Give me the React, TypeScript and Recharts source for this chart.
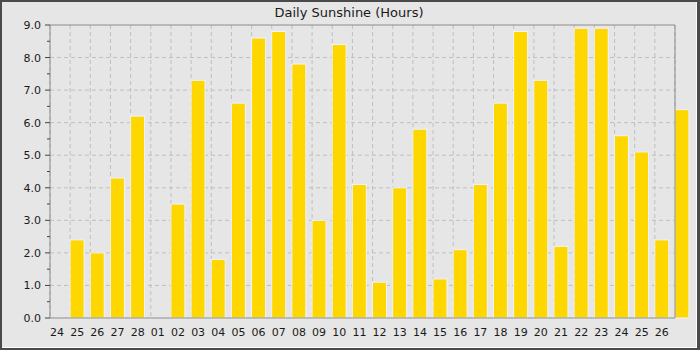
import React from "react";
import { BarChart, Bar, XAxis, YAxis, CartesianGrid, ReferenceLine } from "recharts";

const days = [
  "24", "25", "26", "27", "28", "01", "02", "03", "04", "05", "06", "07", "08", "09", "10", "11",
  "12", "13", "14", "15", "16", "17", "18", "19", "20", "21", "22", "23", "24", "25", "26", "27",
];

const sunshine: (number | null)[] = [
  null, 2.4, 2.0, 4.3, 6.2, null, 3.5, 7.3, 1.8, 6.6, 8.6, 8.8, 7.8, 3.0, 8.4, 4.1,
  1.1, 4.0, 5.8, 1.2, 2.1, 4.1, 6.6, 8.8, 7.3, 2.2, 8.9, 8.9, 5.6, 5.1, 2.4, 6.4,
];

const xTicks = [0, 1, 2, 3, 4, 5, 6, 7, 8, 9, 10, 11, 12, 13, 14, 15, 16, 17, 18, 19, 20, 21, 22, 23, 24, 25, 26, 27, 28, 29, 30];
const yTicks = [0, 0.5, 1, 1.5, 2, 2.5, 3, 3.5, 4, 4.5, 5, 5.5, 6, 6.5, 7, 7.5, 8, 8.5, 9];
const yGrid = [1, 2, 3, 4, 5, 6, 7, 8];

const data = days.map((d, i) => ({ idx: i, day: d, value: sunshine[i] }));

const FONT = "'DejaVu Sans', sans-serif";
const TEXT = "#1a1a1a";

const XTick = (props: any) => {
  const { x, y, payload } = props;
  return (
    <text x={x} y={y} dy="0.71em" textAnchor="start" fontSize={11} fontFamily={FONT} fill={TEXT}>
      {days[payload.value]}
    </text>
  );
};

const YTick = (props: any) => {
  const { x, y, payload } = props;
  const v = payload.value as number;
  const major = Number.isInteger(v);
  const edge = x + 9;
  return (
    <g>
      <line x1={edge - (major ? 5 : 3)} x2={edge} y1={y} y2={y} stroke="#444" strokeWidth={1} />
      {major && (
        <text x={x} y={y} dy="0.36em" textAnchor="end" fontSize={11} fontFamily={FONT} fill={TEXT}>
          {v.toFixed(1)}
        </text>
      )}
    </g>
  );
};

const DayBar = (p: any) => {
  if (!p.height || p.height <= 0) return null;
  return (
    <rect
      x={p.x + p.width / 2}
      y={p.y}
      width={p.width}
      height={p.height}
      fill="#FFD700"
      stroke="#eef3ff"
      strokeWidth={1}
    />
  );
};

export default function App() {
  return (
    <div style={{ position: "fixed", left: 0, top: 0, width: 700, height: 350, background: "#4a4a4a" }}>
      <div
        style={{
          position: "absolute",
          left: 2,
          top: 2,
          width: 695,
          height: 346,
          boxSizing: "border-box",
          background: "#e6e6e6",
          borderRight: "1px solid #ffffff",
          borderBottom: "1px solid #ffffff",
        }}
      />
      <div style={{ position: "absolute", left: 0, top: 0 }}>
        <BarChart
          width={700}
          height={350}
          data={data}
          margin={{ top: 25, right: 25, bottom: 0, left: 0 }}
          style={{ fontFamily: FONT }}
        >
          <text x={349} y={17} textAnchor="middle" fontSize={13} fontFamily={FONT} fill={TEXT}>
            Daily Sunshine (Hours)
          </text>
          <CartesianGrid
            stroke="#bfbfbf"
            strokeDasharray="4 3"
            horizontalValues={yGrid}
            vertical={true}
          />
          <XAxis
            type="number"
            dataKey="idx"
            domain={[0, 31]}
            ticks={xTicks}
            interval={0}
            tickLine={false}
            tickSize={0}
            tickMargin={10}
            height={32}
            axisLine={{ stroke: "#8c8c8c" }}
            tick={<XTick />}
          />
          <YAxis
            type="number"
            domain={[0, 9]}
            ticks={yTicks}
            interval={0}
            tickLine={false}
            tickSize={5}
            tickMargin={4}
            width={50}
            axisLine={{ stroke: "#8c8c8c" }}
            tick={<YTick />}
          />
          <ReferenceLine y={9} stroke="#8c8c8c" />
          <ReferenceLine x={31} stroke="#8c8c8c" />
          <Bar dataKey="value" barSize={14} shape={<DayBar />} isAnimationActive={false} />
        </BarChart>
      </div>
    </div>
  );
}
